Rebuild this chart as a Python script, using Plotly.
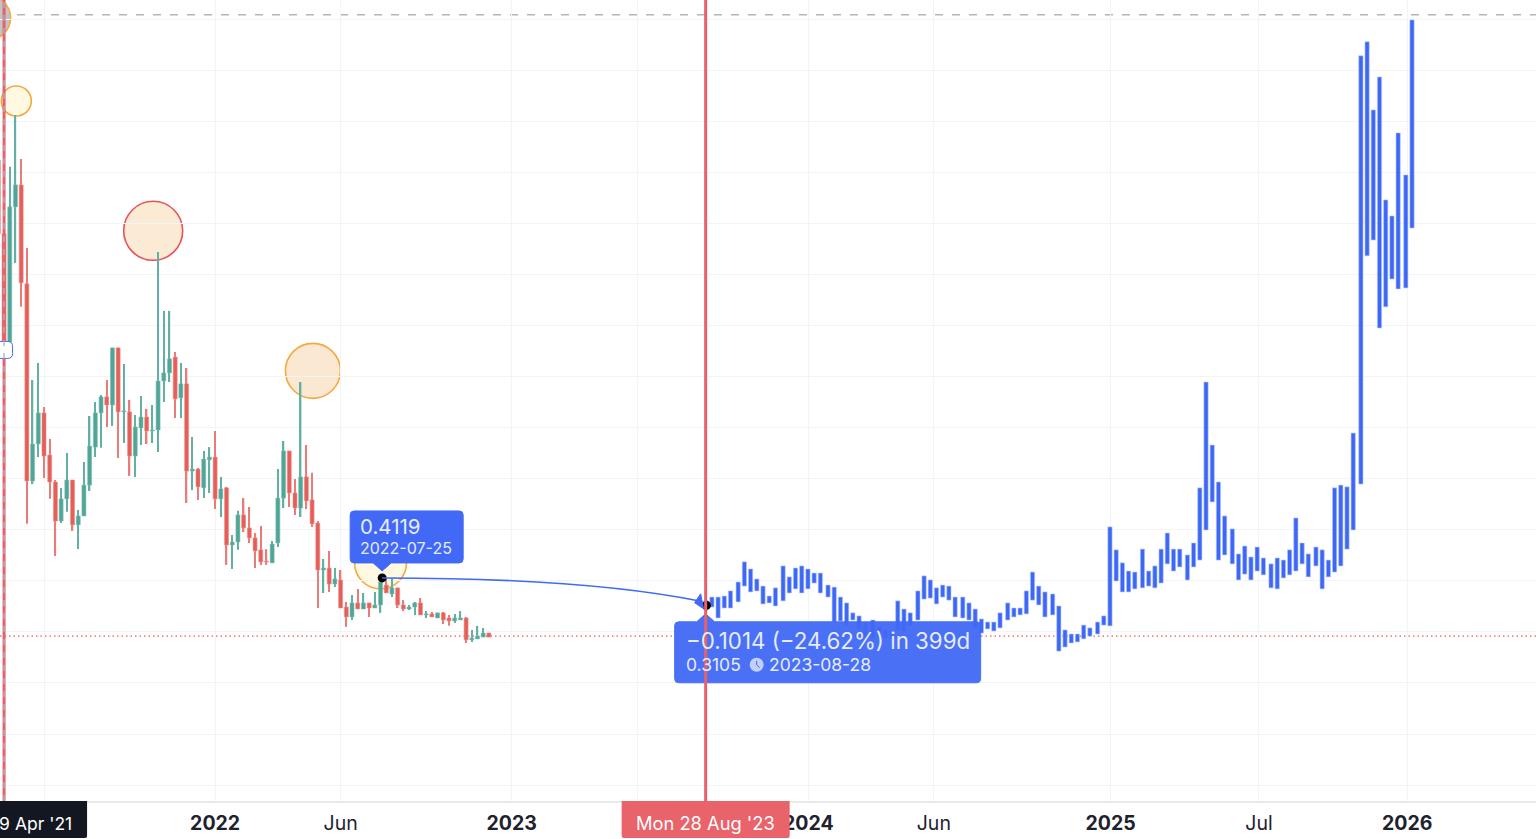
import numpy as np
import pandas as pd
import plotly.graph_objects as go

# ---------- weekly candles ----------
candle_start = "2021-04-12"
candle_open = [
 2.051,1.761,1.337,1.867,1.953,1.565,.792,.937,1.059,.894,.788,.635,.722,.796,.620,.655,.776,.925,1.059,1.122,
 1.090,1.314,1.063,1.063,.890,1.000,1.043,.988,.992,1.184,1.216,1.278,1.118,1.173,.831,.839,.765,.875,.886,.722,
 .765,.541,.553,.659,.608,.569,.522,.478,.471,.549,.725,.910,.745,.686,.808,.718,.627,.443,.451,.388,
 .404,.298,.259,.314,.290,.314,.294,.306,.384,.349,.373,.306,.290,.298,.314,.267,.271,.255,.275,.255,
 .243,.247,.255,.169,.173,.180,.196]
candle_high = [
 2.129,1.761,2.024,2.227,2.055,1.706,1.188,1.255,1.082,.957,.796,.765,.902,.796,.678,.867,1.047,1.102,1.129,1.188,
 1.314,1.314,1.251,1.110,1.051,1.125,1.075,1.090,1.690,1.459,1.459,1.298,1.255,1.235,.965,.843,.910,.925,.988,.808,
 .769,.580,.675,.725,.690,.588,.616,.525,.557,.839,.949,.910,.800,1.180,.933,.824,.635,.486,.518,.451,
 .443,.318,.345,.369,.353,.314,.357,.412,.408,.412,.373,.325,.306,.318,.333,.282,.278,.275,.278,.267,
 .271,.282,.259,.208,.224,.216,.196]
candle_low = [
 1.761,1.325,1.325,1.647,1.475,.624,.780,.886,.804,.722,.498,.627,.671,.596,.525,.655,.753,.886,.922,1.004,
 1.008,.882,.941,.812,.808,.933,.937,.941,.906,1.102,1.180,1.039,1.039,.706,.757,.718,.725,.745,.682,.651,
 .463,.447,.522,.592,.549,.451,.463,.463,.471,.533,.686,.690,.659,.651,.682,.612,.294,.353,.357,.376,
 .294,.220,.247,.290,.290,.259,.294,.275,.353,.337,.294,.282,.286,.267,.267,.255,.259,.255,.231,.224,
 .235,.247,.157,.161,.173,.180,.180]
candle_close = [
 1.761,1.337,1.867,1.953,1.569,.792,.937,1.059,.890,.788,.635,.722,.796,.620,.655,.776,.929,1.059,1.122,1.090,
 1.314,1.063,1.067,.890,1.004,1.043,.988,.992,1.184,1.216,1.271,1.114,1.173,.831,.839,.769,.878,.886,.722,.761,
 .541,.553,.659,.608,.569,.518,.475,.475,.545,.725,.910,.745,.686,.808,.714,.624,.443,.451,.388,.408,
 .294,.259,.314,.290,.314,.294,.306,.396,.353,.373,.306,.290,.298,.314,.267,.271,.259,.275,.247,.243,
 .255,.255,.169,.176,.184,.196,.180]

# ---------- projected blue bars ----------
blue_start = "2023-08-28"
blue_step_days = 7.62
blue_long_step_days = 9.41
blue_long_step_bars = [5,12,19,26,33,40,47,54,61,68,75,82,88,95,102,109]
blue_high = [
 .322,.337,.337,.341,.361,.396,.475,.447,.408,.380,.341,.373,.459,.416,.451,.459,.447,.431,.431,.384,
 .376,.337,.314,.275,.263,.235,.247,.220,.208,.200,.322,.290,.275,.361,.420,.404,.373,.384,.380,.337,
 .337,.314,.290,.251,.239,.239,.275,.314,.294,.294,.361,.435,.380,.357,.349,.302,.208,.192,.192,.227,
 .216,.239,.263,.612,.522,.471,.439,.435,.525,.439,.459,.525,.588,.525,.525,.502,.549,.765,1.180,.933,
 .788,.655,.604,.506,.537,.494,.533,.490,.467,.490,.482,.522,.647,.549,.506,.533,.522,.482,.765,.776,
 .769,.980,2.459,2.514,2.247,2.376,1.894,1.831,2.157,1.992,2.600]
blue_low = [
 .286,.298,.255,.294,.294,.318,.380,.357,.361,.310,.314,.302,.322,.353,.369,.353,.369,.392,.353,.337,
 .239,.243,.227,.247,.212,.180,.176,.176,.176,.176,.208,.204,.224,.247,.329,.333,.310,.337,.325,.259,
 .255,.247,.216,.196,.212,.204,.216,.247,.259,.267,.271,.325,.306,.259,.267,.125,.141,.157,.161,.173,
 .184,.192,.227,.224,.400,.357,.357,.369,.373,.380,.373,.392,.467,.439,.455,.404,.455,.482,.600,.710,
 .482,.502,.467,.404,.427,.404,.439,.424,.373,.369,.412,.424,.439,.467,.416,.459,.369,.416,.435,.459,
 .525,.600,.780,1.675,1.737,1.392,1.475,1.584,1.545,1.549,1.784]

# ---------- axis ----------
tick_dates = ["2021-06-07","2022-01-03","2022-06-06","2023-01-02","2023-06-05","2024-01-01","2024-06-03","2025-01-06","2025-07-07","2026-01-05"]
tick_labels = ["","<b>2022</b>","Jun","<b>2023</b>","","<b>2024</b>","Jun","<b>2025</b>","Jul","<b>2026</b>"]

# ---------- marked points ----------
from_date, from_price = "2022-07-27", 0.4119
to_date, to_price = "2023-08-28", 0.3105
to_dot_date = "2023-08-29"
last_price = 0.184
upper_level = 2.62
left_marker = "2021-04-19"

BLUE = "#4169F5"
FG = "#1E222D"
FONT = "Inter"
DAY_MS = 86400000

candle_dates = pd.date_range(candle_start, periods=len(candle_open), freq="7D")
steps = [blue_long_step_days if i in blue_long_step_bars else blue_step_days for i in range(1, len(blue_high))]
blue_dates = pd.Timestamp(blue_start) + pd.to_timedelta(np.concatenate([[0.0], np.cumsum(steps)]), unit="D")

o, h, l, c = map(np.array, (candle_open, candle_high, candle_low, candle_close))
up = c >= o
wick_colors = np.where(up, "#62B0A4", "#EB7B76")
body_colors = np.where(up, "#4FA598", "#E35F58")
edge_colors = np.where(up, "#7FBDB2", "#EE8F8B")

fig = go.Figure()
fig.add_trace(go.Bar(x=candle_dates, base=l, y=h - l, width=1.7 * DAY_MS,
                     marker=dict(color=wick_colors, line=dict(width=0)), hoverinfo="skip", showlegend=False))
fig.add_trace(go.Bar(x=candle_dates, base=np.minimum(o, c), y=np.abs(o - c), width=4.9 * DAY_MS,
                     marker=dict(color=body_colors, line=dict(color=edge_colors, width=0.6)),
                     hoverinfo="skip", showlegend=False))
fig.add_trace(go.Bar(x=blue_dates, base=blue_low, y=np.array(blue_high) - np.array(blue_low), width=5.2 * DAY_MS,
                     marker=dict(color="#3D68F5", line=dict(color="#B3C4FB", width=0.6)),
                     hoverinfo="skip", showlegend=False))
fig.add_trace(go.Scatter(
    x=[from_date, to_dot_date], y=[from_price, to_price - 0.006], mode="markers",
    marker=dict(color="#000000", size=9), hoverinfo="skip", showlegend=False))


def circle(date, price, r, fill, edge, layer="below"):
    return dict(type="circle", xref="x", yref="y", xsizemode="pixel", ysizemode="pixel",
                xanchor=date, yanchor=price, x0=-r, x1=r, y0=-r, y1=r,
                fillcolor=fill, line=dict(color=edge, width=1.6), layer=layer)


def bubble(date, price, left, right, top, bottom, tip=None, r=4, color=BLUE, edge=None, opacity=1):
    """Rounded box in pixels around an anchor; tip=(dx, dy) adds a pointer on the top or bottom side."""
    p = f"M {left+r} {top} "
    if tip and tip[1] > top:
        p += f"L {tip[0]-9} {top} L {tip[0]} {tip[1]} L {tip[0]+9} {top} "
    p += f"L {right-r} {top} Q {right} {top} {right} {top-r} L {right} {bottom+r} Q {right} {bottom} {right-r} {bottom} "
    if tip and tip[1] < bottom:
        p += f"L {tip[0]+9} {bottom} L {tip[0]} {tip[1]} L {tip[0]-9} {bottom} "
    p += f"L {left+r} {bottom} Q {left} {bottom} {left} {bottom+r} L {left} {top-r} Q {left} {top} {left+r} {top} Z"
    return dict(type="path", xref="x", yref="y", xsizemode="pixel", ysizemode="pixel",
                xanchor=date, yanchor=price, path=p, fillcolor=color, opacity=opacity,
                line=dict(color=edge or color, width=1), layer="above")


def vline(date, color, width, dash="solid", layer="above"):
    return dict(type="line", xref="x", yref="paper", x0=date, x1=date, y0=0, y1=1,
                line=dict(color=color, width=width, dash=dash), layer=layer)


def hline(price, color, width, dash):
    return dict(type="line", xref="paper", yref="y", x0=0, x1=1, y0=price, y1=price,
                line=dict(color=color, width=width, dash=dash), layer="below")


def tag(date, left, right, color):
    return dict(type="path", xref="x", yref="paper", xsizemode="pixel", ysizemode="pixel",
                xanchor=date, yanchor=0,
                path=f"M {left} 0 L {right} 0 L {right} -35 Q {right} -37 {right-2} -37 L {left+2} -37 Q {left} -37 {left} -35 Z",
                fillcolor=color, line=dict(width=0), layer="above")


shapes = [
    hline(upper_level, "#B4B4BA", 1.5, "8px,9px"),
    hline(last_price, "#F0565C", 1.2, "1.5px,3px"),
    circle("2021-03-31", 2.608, 22, "#C4C4C8", "#F5A83E"),
    circle("2021-05-04", 2.282, 15, "#FFF9E1", "#F5A83E"),
    circle("2021-10-19", 1.773, 29.5, "#FBEBD4", "#E8505B"),
    circle("2022-05-03", 1.224, 27.5, "#FBE8D2", "#F5A83E"),
    circle("2022-07-25", 0.471, 26, "#FFF9E1", "#F5A83E"),
    # tooltip boxes
    bubble(from_date, from_price, -32, 81, 67, 15, tip=(0, 7)),
    bubble(to_date, to_price, -31, 275, -18, -79, tip=(0, -10), opacity=0.95),
    # connector and its arrow head
    dict(type="path", xref="x", yref="y", layer="above", line=dict(color=BLUE, width=1.6),
         path=f"M {from_date} {from_price} C 2023-01-12 0.412 2023-05-15 0.384 2023-08-22 {to_price+0.01}"),
    dict(type="path", xref="x", yref="y", xsizemode="pixel", ysizemode="pixel", xanchor=to_date, yanchor=to_price,
         path="M -2 -5 L -11 1 L -5 10 Z", fillcolor=BLUE, line=dict(color=BLUE, width=1), layer="above"),
    # clock glyph
    dict(type="circle", xref="x", yref="y", xsizemode="pixel", ysizemode="pixel", xanchor=to_date, yanchor=to_price,
         x0=44, x1=58, y0=-68, y1=-54, fillcolor="#C3D0FB", line=dict(width=0), layer="above"),
    dict(type="path", xref="x", yref="y", xsizemode="pixel", ysizemode="pixel", xanchor=to_date, yanchor=to_price,
         path="M 51 -57 L 51 -61 L 54 -64", line=dict(color=BLUE, width=1), layer="above"),
    # markers of time
    vline(left_marker, "#E8606A", 3),
    vline(left_marker, "#A9A9B0", 1.2, "6px,7px"),
    vline(to_date, "#E8606A", 3),
    bubble(left_marker, 1.306, -20, 8.5, 8.5, -8.5, r=5, color="#FFFFFF", edge=BLUE),
    tag(left_marker, -30, 83, "#131722"),
    tag(to_date, -84, 84, "#E8636A"),
]
# the gray dash crossing the small marker box
shapes.append(vline(left_marker, "#A9A9B0", 1.2, "6px,7px"))
fig.update_layout(shapes=shapes)


def label(date, price, dx, dy, text, size, anchor="left", color="#E6ECFE"):
    return dict(xref="x", yref="y", x=date, y=price, xshift=dx, yshift=dy, text=text,
                showarrow=False, xanchor=anchor, yanchor="middle", font=dict(family=FONT, size=size, color=color))


annotations = [
    label(from_date, from_price, -24, 51, "0.4119", 20.5),
    label(from_date, from_price, -24, 30, "2022-07-25", 16),
    label(to_date, to_price, -22, -37, "\u22120.1014 (\u221224.62%) in 399d", 22.3),
    label(to_date, to_price, -22, -61, "0.3105", 17.5),
    label(to_date, to_price, 61, -61, "2023-08-28", 17.5),
    dict(xref="paper", yref="paper", x=74 / 1536, y=0, yshift=-22, text="19 Apr '21", showarrow=False,
         xanchor="right", yanchor="middle", font=dict(family=FONT, size=17.5, color="#FFFFFF")),
    dict(xref="x", yref="paper", x=to_date, y=0, yshift=-22, text="Mon 28 Aug '23", showarrow=False,
         xanchor="center", yanchor="middle", font=dict(family=FONT, size=18.3, color="#FFFFFF")),
]

fig.update_layout(
    width=1536, height=839, autosize=False,
    margin=dict(l=0, r=0, t=0, b=38),
    paper_bgcolor="#FFFFFF", plot_bgcolor="#FFFFFF",
    showlegend=False, hovermode=False, barmode="overlay",
    annotations=annotations,
    xaxis=dict(type="date", range=["2021-04-14", "2026-06-12"],
               tickmode="array", tickvals=tick_dates, ticktext=tick_labels,
               tickfont=dict(family=FONT, size=19.5, color=FG), tickangle=0,
               ticks="outside", ticklen=4, tickcolor="rgba(0,0,0,0)",
               showgrid=True, gridcolor="#F3F4F6", gridwidth=1.4, zeroline=False,
               showline=True, linecolor="#E9E9EA", linewidth=2),
    yaxis=dict(range=[-0.4627, 2.678], tick0=0, dtick=0.2, showticklabels=False, ticks="",
               showgrid=True, gridcolor="#F3F4F6", gridwidth=1.4, zeroline=False, showline=False),
)

fig.write_html("out.html", config=dict(displayModeBar=False),
               post_script="document.body.style.margin='0';document.body.style.overflow='hidden';")
